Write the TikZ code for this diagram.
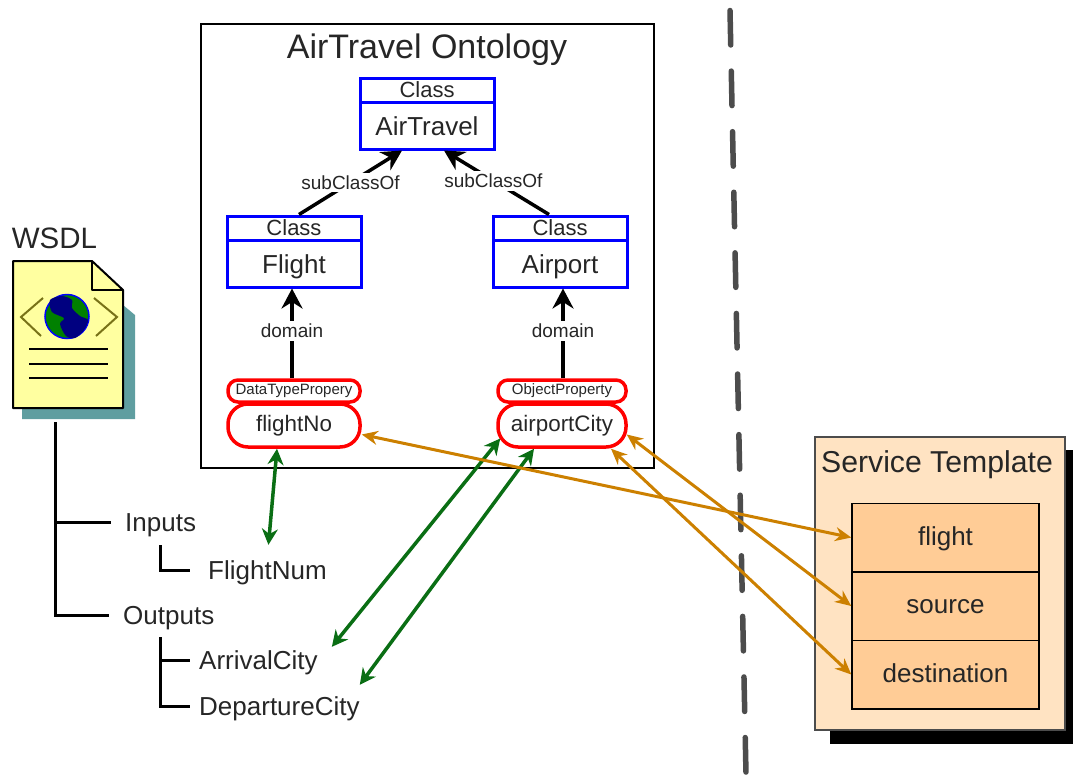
\documentclass[tikz,border=0pt]{standalone}
\usepackage{fontspec}
\setmainfont{Liberation Sans}
\usetikzlibrary{positioning,arrows.meta}
\newcommand{\fsz}[1]{\fontsize{#1}{#1}\selectfont}
\definecolor{ordarrow}{HTML}{CC8000}
\definecolor{grnarrow}{HTML}{0A6E14}
\definecolor{tplfill}{HTML}{FFE3C2}
\definecolor{rowfill}{HTML}{FFCC96}
\definecolor{docfill}{HTML}{FFFFA0}
\definecolor{docshadow}{HTML}{5F9EA0}
\definecolor{txt}{HTML}{262626}
\tikzset{
  classhead/.style={draw=blue,line width=3pt,text=txt,minimum width=134pt,minimum height=24pt,inner sep=0pt,font=\fsz{22}},
  classbody/.style={draw=blue,line width=3pt,text=txt,minimum width=134pt,minimum height=47pt,inner sep=0pt,text height=19pt,text depth=0pt,font=\fsz{26}},
  prophead/.style={draw=red,line width=3.5pt,text=txt,rounded corners=10pt,minimum height=22pt,inner sep=0pt,font=\fsz{15}},
  propbody/.style={draw=red,line width=3.5pt,text=txt,rounded corners=20pt,minimum height=43pt,inner sep=0pt,font=\fsz{22.4}},
  rowbox/.style={draw=black,line width=1.5pt,fill=rowfill,text=txt,minimum width=187pt,minimum height=68.5pt,inner sep=0pt,text height=20pt,text depth=5pt,font=\fsz{26}},
  lbl/.style={font=\fsz{26},text=txt,inner sep=0pt,text height=21pt,text depth=3pt},
  edgelbl/.style={font=\fsz{19},text=txt,fill=white,inner xsep=1.5pt,inner ysep=3pt},
  blk/.style={line width=3.5pt,-{Stealth[length=20pt,width=21pt]}},
  grn/.style={draw=grnarrow,line width=3.5pt,{Stealth[length=16pt,width=16pt]}-{Stealth[length=16pt,width=16pt]}},
  ord/.style={draw=ordarrow,line width=3pt,{Stealth[length=16pt,width=14pt]}-{Stealth[length=16pt,width=14pt]}},
  tree/.style={line width=3pt}
}
\begin{document}
\begin{tikzpicture}[x=1pt,y=-1pt]
\useasboundingbox (0,0) rectangle (1073,774);
% ontology frame
\node[draw,line width=1.5pt,minimum width=453pt,minimum height=444pt,inner sep=0pt] (ontology) at (427.5,246) {};
\node[font=\fsz{34},text=txt,inner sep=0pt] (ontoTitle) at (427,50) {AirTravel Ontology};
% classes
\node[classhead] (airTravelHead) at (427,90) {Class};
\node[classbody,below=-3pt of airTravelHead] (airTravelBody) {AirTravel};
\node[classhead] (flightHead) at (294,228) {Class};
\node[classbody,below=-3pt of flightHead] (flightBody) {Flight};
\node[classhead] (airportHead) at (560,228) {Class};
\node[classbody,below=-3pt of airportHead] (airportBody) {Airport};
% properties
\node[prophead,minimum width=132pt] (dataProp) at (294,391) {DataTypePropery};
\node[propbody,minimum width=132pt] (flightNo) at (294,425.5) {flightNo};
\node[prophead,minimum width=128pt] (objProp) at (562,391) {ObjectProperty};
\node[propbody,minimum width=128pt] (airportCity) at (562,425.5) {airportCity};
% edges in the ontology
\draw[blk] ([xshift=5pt]flightHead.north) -- node[edgelbl,midway] {subClassOf} ([xshift=-25pt]airTravelBody.south);
\draw[blk] ([xshift=-11pt]airportHead.north) -- node[edgelbl,pos=.53] {subClassOf} ([xshift=17pt]airTravelBody.south);
\draw[blk] ([xshift=-2pt]dataProp.north) -- node[edgelbl,pos=.53] {domain} ([xshift=-2pt]flightBody.south);
\draw[blk] ([xshift=1pt]objProp.north) -- node[edgelbl,pos=.53] {domain} ([xshift=3pt]airportBody.south);
% wsdl document
\fill[docshadow] (123,305) -- (135,315) -- (135,419) -- (22,419) -- (22,408) -- (123,408) -- cycle;
\draw[fill=docfill,line width=2pt,line join=round] (13,261) -- (92,261) -- (123,290) -- (123,408) -- (13,408) -- cycle;
\draw[line width=2pt,line join=round] (92,261) -- (92,290) -- (123,290);
\draw[draw=olive!80!black,line width=2pt] (43,298) -- (21,317) -- (41,336);
\draw[draw=olive!80!black,line width=2pt] (94,298) -- (117,317) -- (96,336);
\draw[draw=blue,fill=green!50!black,line width=1.5pt] (67,316.5) circle (22);
\fill[blue!50!black] plot[smooth cycle] coordinates {(50,300) (62,296) (72,300) (72,308) (80,316) (88,320) (84,330) (75,338) (66,336) (60,324) (64,318) (52,312)};
\draw[line width=1.5pt] (29,349) -- (108,349);
\draw[line width=1.5pt] (29,364) -- (108,364);
\draw[line width=1.5pt] (29,378) -- (108,378);
\node[font=\fsz{29.5},text=txt,inner sep=0pt] (wsdl) at (54.5,238) {WSDL};
% wsdl tree
\node[lbl,anchor=west] (inputs) at (125,522) {Inputs};
\node[lbl,anchor=west] (flightNum) at (208,570) {FlightNum};
\node[lbl,anchor=west] (outputs) at (123,615) {Outputs};
\node[lbl,anchor=west] (arrivalCity) at (199,660) {ArrivalCity};
\node[lbl,anchor=west] (departureCity) at (199,706) {DepartureCity};
\coordinate (treeTop) at (55,422);
\coordinate (treeIn) at (160,545);
\coordinate (treeOut) at (160,637);
\draw[tree] (treeTop) |- ([xshift=-14pt]outputs.west);
\draw[tree] (treeTop |- inputs.west) -- ([xshift=-14pt]inputs.west);
\draw[tree] (treeIn) |- ([xshift=-18pt]flightNum.west);
\draw[tree] (treeOut) |- ([xshift=-9pt]departureCity.west);
\draw[tree] (treeOut |- arrivalCity.west) -- ([xshift=-9pt]arrivalCity.west);
% divider
\coordinate (divTop) at (730,10.5);
\coordinate (divBot) at (746,774);
\draw[draw=black!70,line width=5.5pt,line cap=round,dash pattern=on 34.5pt off 26.1pt] (divTop) -- (divBot);
% service template
\fill[black] (830,450) rectangle (1073,744);
\node[draw=black!70,line width=1.5pt,fill=tplfill,minimum width=250pt,minimum height=293pt,inner sep=0pt] (tpl) at (940,583.5) {};
\node[font=\fsz{30.2},text=txt,inner sep=0pt] (tplTitle) at (937,465) {Service Template};
\node[rowbox] (flightRow) at (945.5,537.5) {flight};
\node[rowbox,below=-1.5pt of flightRow] (sourceRow) {source};
\node[rowbox,below=-1.5pt of sourceRow] (destRow) {destination};
% mappings
\draw[grn] ([xshift=-17pt]flightNo.south) -- ([xshift=1pt,yshift=13pt]flightNum.north);
\draw[grn] ([xshift=4pt,yshift=-13pt]airportCity.west) -- ([xshift=14pt,yshift=1pt]arrivalCity.north east);
\draw[grn] ([xshift=-28pt]airportCity.south) -- ([yshift=9pt]departureCity.north east);
\draw[ord] ([yshift=-9pt]flightNo.east) -- (flightRow.west);
\draw[ord] ([xshift=-1pt,yshift=-9pt]airportCity.east) -- (sourceRow.west);
\draw[ord] ([xshift=49pt]airportCity.south) -- (destRow.west);
\end{tikzpicture}
\end{document}
